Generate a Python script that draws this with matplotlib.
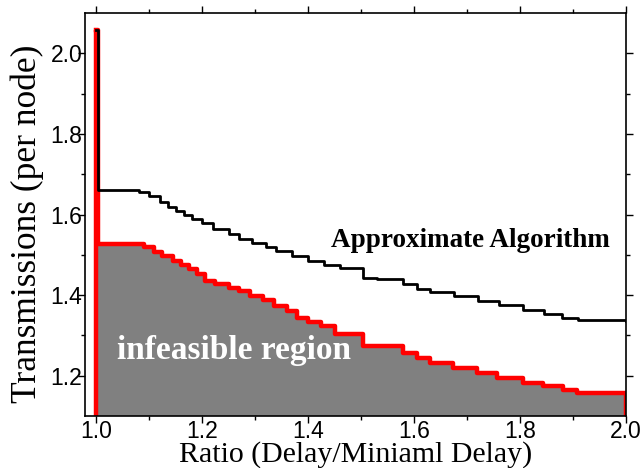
import matplotlib
matplotlib.use("Agg")
import matplotlib.pyplot as plt

# ---------- data ----------
approx_x = [1.000, 1.003, 1.080, 1.100, 1.120, 1.135, 1.150, 1.165, 1.180, 1.200,
            1.220, 1.250, 1.270, 1.295, 1.320, 1.340, 1.370, 1.400, 1.430, 1.460,
            1.504, 1.530, 1.580, 1.605, 1.630, 1.675, 1.720, 1.760, 1.805, 1.845,
            1.880, 1.910, 2.000]
approx_y = [2.057, 1.660, 1.655, 1.645, 1.632, 1.620, 1.610, 1.600, 1.590, 1.578,
            1.565, 1.553, 1.540, 1.530, 1.520, 1.510, 1.498, 1.485, 1.475, 1.468,
            1.443, 1.440, 1.428, 1.416, 1.408, 1.398, 1.386, 1.376, 1.364, 1.354,
            1.344, 1.339, 1.337]

bound_x = [1.000, 1.003, 1.090, 1.110, 1.125, 1.145, 1.160, 1.175, 1.190, 1.205,
           1.225, 1.250, 1.270, 1.290, 1.315, 1.335, 1.360, 1.380, 1.400, 1.425,
           1.450, 1.504, 1.580, 1.606, 1.630, 1.674, 1.719, 1.757, 1.806, 1.843,
           1.881, 1.908, 2.000]
bound_y = [2.057, 1.528, 1.520, 1.506, 1.496, 1.486, 1.476, 1.466, 1.452, 1.436,
           1.428, 1.419, 1.410, 1.399, 1.387, 1.374, 1.360, 1.344, 1.334, 1.324,
           1.304, 1.275, 1.257, 1.245, 1.232, 1.220, 1.207, 1.195, 1.183, 1.175,
           1.165, 1.158, 1.158]

XLIM = (0.979, 2.0)
YLIM = (1.1, 2.1)
xticks = [1.0, 1.2, 1.4, 1.6, 1.8, 2.0]
yticks = [1.2, 1.4, 1.6, 1.8, 2.0]

# ---------- plot ----------
fig = plt.figure(figsize=(6.44, 4.68), dpi=100)
ax = fig.add_axes([0.132, 0.111, 0.840, 0.861])

# shaded infeasible region (starts after the spike)
ax.fill_between(bound_x[1:], YLIM[0], bound_y[1:], step="post",
                color="#808080", linewidth=0, zorder=1)
ax.step(bound_x, bound_y, where="post", color="#ff0000", lw=3.2, zorder=2)
ax.vlines([bound_x[0], bound_x[-1]], YLIM[0], [bound_y[0], bound_y[-1]],
          color="#ff0000", lw=3.2, zorder=2)
ax.step(approx_x, approx_y, where="post", color="black", lw=2.0, zorder=3)

ax.text(1.443, 1.535, "Approximate Algorithm", family="Liberation Serif",
        fontweight="bold", fontsize=19.5, va="center", ha="left")
ax.text(1.040, 1.262, "infeasible region", family="Liberation Serif",
        fontweight="bold", fontsize=24, color="white", va="center", ha="left")

ax.set_xlim(*XLIM)
ax.set_ylim(*YLIM)
ax.set_xticks(xticks)
ax.set_yticks(yticks)
ax.set_xticks([1.1, 1.3, 1.5, 1.7, 1.9], minor=True)
ax.set_yticks([1.3, 1.5, 1.7, 1.9], minor=True)
ax.set_xticklabels([f"{v:.1f}" for v in xticks], family="Liberation Sans", fontsize=16.5)
ax.set_yticklabels([f"{v:.1f}" for v in yticks], family="Liberation Sans", fontsize=16.5)
ax.tick_params(which="major", direction="out", length=5, width=1, pad=-3)
ax.tick_params(axis="x", which="major", pad=-2.5)
ax.tick_params(which="minor", direction="out", length=3, width=1)
ax.tick_params(which="both", top=True, right=True)
ax.tick_params(which="both", labeltop=False, labelright=False)

for s in ax.spines.values():
    s.set_linewidth(1.2)

ax.set_xlabel("Ratio (Delay/Miniaml Delay)", family="Liberation Serif", fontsize=21.5)
ax.xaxis.set_label_coords(0.5, -0.062)
ax.set_ylabel("Transmissions (per node)", family="Liberation Serif", fontsize=25.5)
ax.yaxis.set_label_coords(-0.075, 0.476)

fig.savefig("out.png", dpi=100)
